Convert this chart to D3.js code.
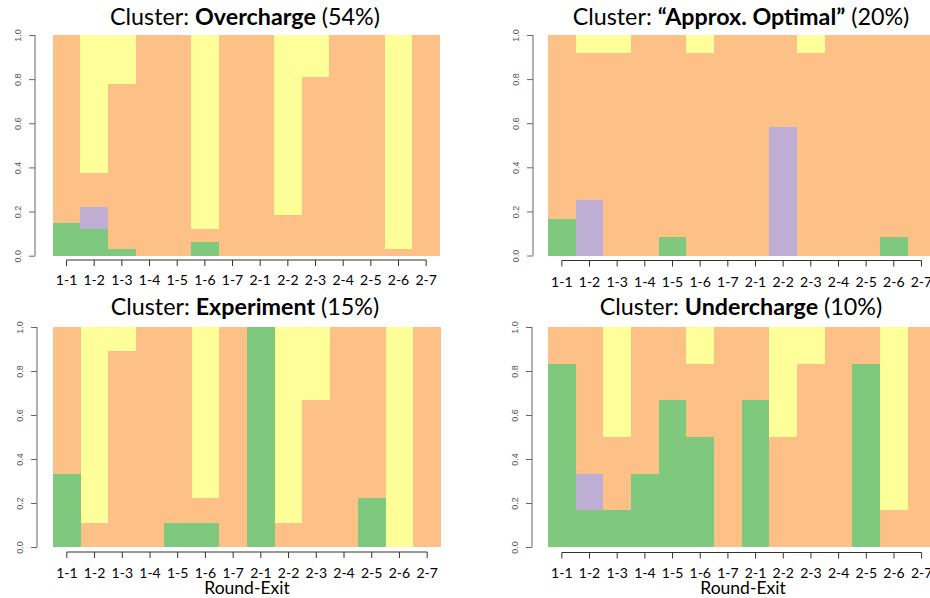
<!DOCTYPE html>
<html>
<head>
<meta charset="utf-8">
<script src="https://cdn.jsdelivr.net/npm/d3@7"></script>
<style>
  html, body { margin: 0; padding: 0; background: #fff; }
  svg { display: block; }
  .title { font-family: Lato, "Noto Sans", sans-serif; font-size: 23.3px; fill: #000; }
  .xlab { font-family: Lato, "Noto Sans", sans-serif; font-size: 14px; fill: #000; }
  .ylab { font-family: "Liberation Sans", Arial, sans-serif; font-size: 9px; fill: #555; }
  .axistitle { font-family: Lato, "Noto Sans", sans-serif; font-size: 17.5px; fill: #000; }
</style>
</head>
<body>
<svg id="chart" width="930" height="598"></svg>
<script>
// Round-exit categories on the x axis
const categories = ["1-1","1-2","1-3","1-4","1-5","1-6","1-7","2-1","2-2","2-3","2-4","2-5","2-6","2-7"];
const yTicks = [0, 0.2, 0.4, 0.6, 0.8, 1.0];

// Share of each outcome group per round-exit, stacked bottom to top
const layerKeys = ["g1", "g2", "g3", "g4"];
const layerColors = ["#7fc97f", "#beaed4", "#fdc086", "#ffff99"];

// Cluster: Overcharge
const overchargeG1 = [0.15, 0.12, 0.03, 0, 0, 0.06, 0, 0, 0, 0, 0, 0, 0, 0];
const overchargeG2 = [0, 0.10, 0, 0, 0, 0, 0, 0, 0, 0, 0, 0, 0, 0];
const overchargeG3 = [0.85, 0.155, 0.75, 1, 1, 0.06, 1, 1, 0.185, 0.81, 1, 1, 0.03, 1];
const overchargeG4 = [0, 0.625, 0.22, 0, 0, 0.88, 0, 0, 0.815, 0.19, 0, 0, 0.97, 0];

// Cluster: Approx. Optimal
const optimalG1 = [0.167, 0, 0, 0, 0.083, 0, 0, 0, 0, 0, 0, 0, 0.083, 0];
const optimalG2 = [0, 0.25, 0, 0, 0, 0, 0, 0, 0.583, 0, 0, 0, 0, 0];
const optimalG3 = [0.833, 0.667, 0.917, 1, 0.917, 0.917, 1, 1, 0.417, 0.917, 1, 1, 0.917, 1];
const optimalG4 = [0, 0.083, 0.083, 0, 0, 0.083, 0, 0, 0, 0.083, 0, 0, 0, 0];

// Cluster: Experiment
const experimentG1 = [0.333, 0, 0, 0, 0.111, 0.111, 0, 1, 0, 0, 0, 0.222, 0, 0];
const experimentG2 = [0, 0, 0, 0, 0, 0, 0, 0, 0, 0, 0, 0, 0, 0];
const experimentG3 = [0.667, 0.111, 0.889, 1, 0.889, 0.111, 1, 0, 0.111, 0.667, 1, 0.778, 0, 1];
const experimentG4 = [0, 0.889, 0.111, 0, 0, 0.778, 0, 0, 0.889, 0.333, 0, 0, 1, 0];

// Cluster: Undercharge
const underchargeG1 = [0.833, 0.167, 0.167, 0.333, 0.667, 0.5, 0, 0.667, 0, 0, 0, 0.833, 0, 0];
const underchargeG2 = [0, 0.167, 0, 0, 0, 0, 0, 0, 0, 0, 0, 0, 0, 0];
const underchargeG3 = [0.167, 0.667, 0.333, 0.667, 0.333, 0.333, 1, 0.333, 0.5, 0.833, 1, 0.167, 0.167, 1];
const underchargeG4 = [0, 0, 0.5, 0, 0, 0.167, 0, 0, 0.5, 0.167, 0, 0, 0.833, 0];

const svg = d3.select("#chart");

function buildTable(layers) {
  return categories.map((c, i) => {
    const row = { cat: c };
    layerKeys.forEach((k, j) => { row[k] = layers[j][i]; });
    return row;
  });
}

function drawPanel(p) {
  const g = svg.append("g");
  const x = d3.scaleBand().domain(categories).range([p.x0, p.x1]).padding(0);
  const y = d3.scaleLinear().domain([0, 1]).range([p.yBot, p.yTop]);
  const stacked = d3.stack().keys(layerKeys)(buildTable(p.layers));

  // stacked bars
  g.selectAll("g.layer").data(stacked).join("g")
    .attr("class", "layer")
    .attr("fill", (d, i) => layerColors[i])
    .selectAll("rect").data(d => d).join("rect")
      .attr("shape-rendering", "crispEdges")
      .attr("x", d => x(d.data.cat))
      .attr("width", x.bandwidth())
      .attr("y", d => y(d[1]))
      .attr("height", d => Math.max(0, y(d[0]) - y(d[1])));

  // y axis (rotated labels)
  const ya = g.append("g").attr("transform", `translate(${p.yAxisX},0)`)
    .call(d3.axisLeft(y).tickValues(yTicks).tickFormat(d3.format(".1f")).tickSize(6).tickSizeOuter(0));
  ya.select(".domain").attr("stroke", "#666").attr("d", `M0,${y(0)}V${y(1)}`);
  ya.selectAll(".tick line").attr("stroke", "#666");
  ya.selectAll(".tick text")
    .attr("class", "ylab")
    .attr("font-family", null).attr("font-size", null)
    .attr("fill", null)
    .attr("transform", "rotate(-90)")
    .attr("x", 0).attr("y", -14).attr("dy", 0)
    .attr("text-anchor", "middle");

  // x axis: line runs from the first tick to the last
  const xa = g.append("g").attr("transform", `translate(0,${p.xAxisY})`)
    .call(d3.axisBottom(x).tickSize(6).tickSizeOuter(0));
  const xc = c => x(c) + x.bandwidth() / 2;
  xa.select(".domain").attr("stroke", "#333")
    .attr("d", `M${xc(categories[0])},0H${xc(categories[categories.length - 1])}`);
  xa.selectAll(".tick line").attr("stroke", "#333");
  xa.selectAll(".tick text")
    .attr("class", "xlab")
    .attr("font-family", null).attr("font-size", null).attr("fill", null)
    .attr("y", p.labOff).attr("dy", 0);

  // title: regular prefix, bold cluster name, regular share
  const t = g.append("text").attr("class", "title")
    .attr("x", p.titleX).attr("y", p.titleY).attr("text-anchor", "middle");
  t.append("tspan").text("Cluster: ");
  t.append("tspan").attr("font-weight", "bold").text(p.name);
  t.append("tspan").text(" " + p.share);

  if (p.axisTitle) {
    g.append("text").attr("class", "axistitle")
      .attr("x", p.axisTitleX)
      .attr("y", p.axisTitleY).attr("text-anchor", "middle")
      .text("Round-Exit");
  }
}

drawPanel({ layers: [overchargeG1, overchargeG2, overchargeG3, overchargeG4],
  name: "Overcharge", share: "(54%)",
  x0: 52.7, x1: 440, yTop: 35, yBot: 255.7, yAxisX: 35, xAxisY: 260, labOff: 25,
  titleX: 245, titleY: 25 });

drawPanel({ layers: [optimalG1, optimalG2, optimalG3, optimalG4],
  name: "\u201CApprox. Optimal\u201D", share: "(20%)",
  x0: 548, x1: 935.3, yTop: 35, yBot: 255.5, yAxisX: 533, xAxisY: 260.5, labOff: 26.5,
  titleX: 741, titleY: 25 });

drawPanel({ layers: [experimentG1, experimentG2, experimentG3, experimentG4],
  name: "Experiment", share: "(15%)",
  x0: 53, x1: 441, yTop: 327, yBot: 547, yAxisX: 37, xAxisY: 552, labOff: 25.5,
  titleX: 245, titleY: 315, axisTitle: true, axisTitleX: 247, axisTitleY: 594 });

drawPanel({ layers: [underchargeG1, underchargeG2, underchargeG3, underchargeG4],
  name: "Undercharge", share: "(10%)",
  x0: 548, x1: 935.5, yTop: 327, yBot: 547, yAxisX: 532, xAxisY: 552.5, labOff: 25,
  titleX: 741, titleY: 315, axisTitle: true, axisTitleX: 743, axisTitleY: 594 });
</script>
</body>
</html>
